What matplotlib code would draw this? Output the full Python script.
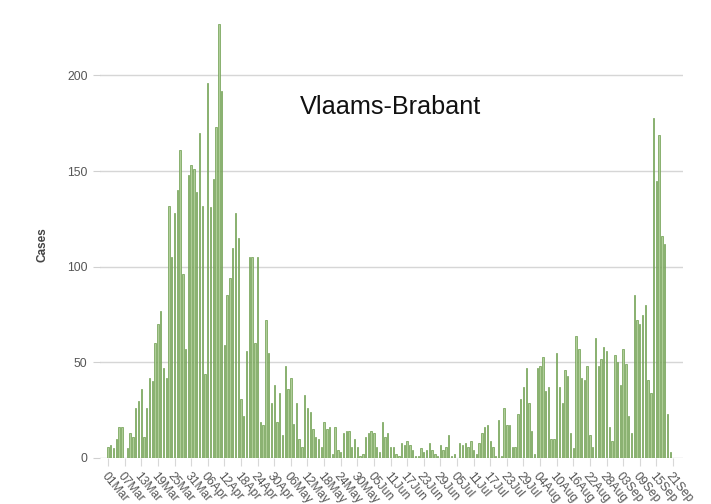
import numpy as np
import pandas as pd
import matplotlib
matplotlib.use("Agg")
import matplotlib.pyplot as plt

# daily cases, 01 Mar .. 21 Sep
dates = pd.date_range("2020-03-01", "2020-09-21", freq="D")
cases = [
    6, 7, 5, 10, 16, 16, 0, 5, 13, 11,
    26, 30, 36, 11, 26, 42, 40, 60, 70, 77,
    47, 42, 132, 105, 128, 140, 161, 96, 57, 148,
    153, 151, 139, 170, 132, 44, 196, 131, 146, 173,
    227, 192, 59, 85, 94, 110, 128, 115, 31, 22,
    56, 105, 105, 60, 105, 19, 17, 72, 55, 29,
    38, 19, 34, 12, 48, 36, 42, 18, 29, 10,
    6, 33, 26, 24, 15, 11, 10, 6, 19, 15,
    16, 2, 16, 4, 3, 13, 14, 14, 6, 10,
    6, 1, 2, 11, 13, 14, 13, 6, 3, 19,
    11, 13, 6, 6, 2, 1, 8, 7, 9, 7,
    4, 1, 1, 5, 3, 4, 8, 4, 2, 1,
    7, 4, 6, 12, 1, 2, 0, 8, 7, 8,
    6, 9, 4, 2, 8, 13, 16, 17, 9, 6,
    1, 20, 1, 26, 17, 17, 6, 6, 23, 31,
    37, 47, 29, 14, 2, 47, 48, 53, 35, 37,
    10, 10, 55, 37, 29, 46, 43, 13, 5, 64,
    57, 42, 41, 48, 12, 6, 63, 48, 52, 58,
    56, 16, 9, 54, 50, 38, 57, 49, 22, 13,
    85, 72, 70, 75, 80, 41, 34, 178, 145, 169,
    116, 112, 23, 3, 0,
]
tick_every = 6
title = "Vlaams-Brabant"

plt.rcParams["font.family"] = ["Liberation Sans", "DejaVu Sans"]

fig = plt.figure(figsize=(7.11, 5.04), dpi=100)
ax = fig.add_axes([100 / 711, 46 / 504, 583 / 711, 438 / 504])

x = np.arange(len(cases))
ax.bar(x, cases, width=0.5, color="#afcd98", edgecolor="#6b9c4c", linewidth=0.5)

ax.set_xlim(-2.9, 207.6)
ax.set_ylim(0, 229)
ax.set_yticks([0, 50, 100, 150, 200])
ax.grid(axis="y", color="#d6d6d6", linewidth=1)
ax.set_axisbelow(True)
for s in ax.spines.values():
    s.set_visible(False)

ticks = x[::tick_every]
ax.set_xticks(ticks)
ax.set_xticklabels([d.strftime("%d%b") for d in dates[::tick_every]],
                   rotation=-50, ha="left", va="top", rotation_mode="anchor")
ax.tick_params(axis="x", length=6, width=0.8, color="#d8d8d8", pad=3,
               labelsize=8.7, labelcolor="#555555")
ax.tick_params(axis="y", length=5, width=0.8, color="#d0d0d0", pad=4,
               labelsize=8.7, labelcolor="#555555")

fig.text(43 / 711, 1 - 245 / 504, "Cases", rotation=90, ha="center", va="center",
         fontsize=8.5, fontweight="bold", color="#444444")
fig.text(391 / 711, 1 - 107 / 504, title, ha="center", va="center",
         fontsize=18.2, color="#111111")

fig.savefig("out.png", dpi=100)
